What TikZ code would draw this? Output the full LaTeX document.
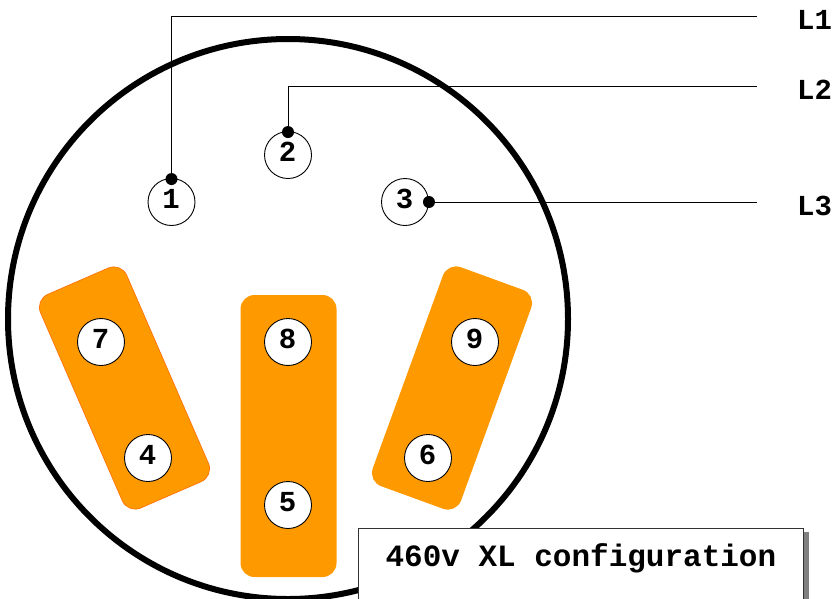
\documentclass[tikz,border=0pt]{standalone}
\usepackage{fontspec}
\setmainfont{Liberation Mono}
\usetikzlibrary{shadows}
\definecolor{padorange}{HTML}{FF9900}
\definecolor{padedge}{HTML}{FF6A00}
\tikzset{
  x = 1pt,
  y = -1pt,
  housing/.style = {circle,
                    draw,
                    line width = 6pt,
                    minimum size = 560pt,
                    inner sep = 0pt},
  pad/.style = {rectangle,
                rounded corners = 14pt,
                fill = padorange,
                minimum width = 94pt,
                minimum height = 233pt},
  pin/.style = {circle,
                draw,
                fill = white,
                line width = 0.9pt,
                minimum size = 47pt,
                inner sep = 0pt,
                text depth = 7pt,
                execute at end node = \hspace*{1pt},
                font = \fontsize{29}{29}\selectfont\bfseries},
  dot/.style = {circle,
                fill = black,
                minimum size = 12pt,
                inner sep = 0pt},
  wire/.style = {line width = 1pt},
  lead/.style = {font = \fontsize{29}{29}\selectfont\bfseries,
                 anchor = west,
                 inner sep = 0pt},
  caption/.style = {rectangle,
                    draw = black!80,
                    fill = white,
                    line width = 0.8pt,
                    minimum width = 445pt,
                    anchor = north west,
                    inner sep = 0pt,
                    text height = 38pt,
                    text depth = 50pt,
                    font = \fontsize{31}{31}\selectfont\bfseries,
                    drop shadow = {shadow xshift = 6pt,
                                   shadow yshift = -4pt,
                                   fill = black!50,
                                   opacity = 1}}
}
\begin{document}
\begin{tikzpicture}

\useasboundingbox (0,0) rectangle (835,598);
\clip (0,0) rectangle (835,598);

\node[housing](housing) at (288,319){};

\node[pad, draw = padedge, line width = 0.6pt, rotate = 23.5](pad-left) at (124.5,388){};
\node[pad, minimum width = 96pt, minimum height = 282pt](pad-mid) at (288.5,436){};
\node[pad, rotate = -20](pad-right) at (452,388){};

\node[pin](pin-1) at (171.5,202){1};
\node[pin](pin-2) at (288,155){2};
\node[pin](pin-3) at (405,202){3};
\node[pin](pin-7) at (101,342){7};
\node[pin](pin-4) at (148,458){4};
\node[pin](pin-8) at (288,342){8};
\node[pin](pin-5) at (288,505){5};
\node[pin](pin-9) at (475,342){9};
\node[pin](pin-6) at (428,458){6};

\node[dot](dot-1)[yshift = -1pt] at (pin-1.north){};
\node[dot](dot-2)[yshift = -1pt] at (pin-2.north){};
\node[dot](dot-3) at (pin-3.east){};

\coordinate (end-1) at (757,16);
\coordinate (end-2) at (757,86);
\coordinate (end-3) at (757,202);

\draw[wire] (dot-1) |- (end-1);
\draw[wire] (dot-2) |- (end-2);
\draw[wire] (dot-3) -- (end-3);

\node[lead](lead-1) at (797,20){L1};
\node[lead](lead-2) at (797,90){L2};
\node[lead](lead-3) at (797,206){L3};

\node[caption](caption) at (358,528){460v XL configuration};

\end{tikzpicture}
\end{document}
